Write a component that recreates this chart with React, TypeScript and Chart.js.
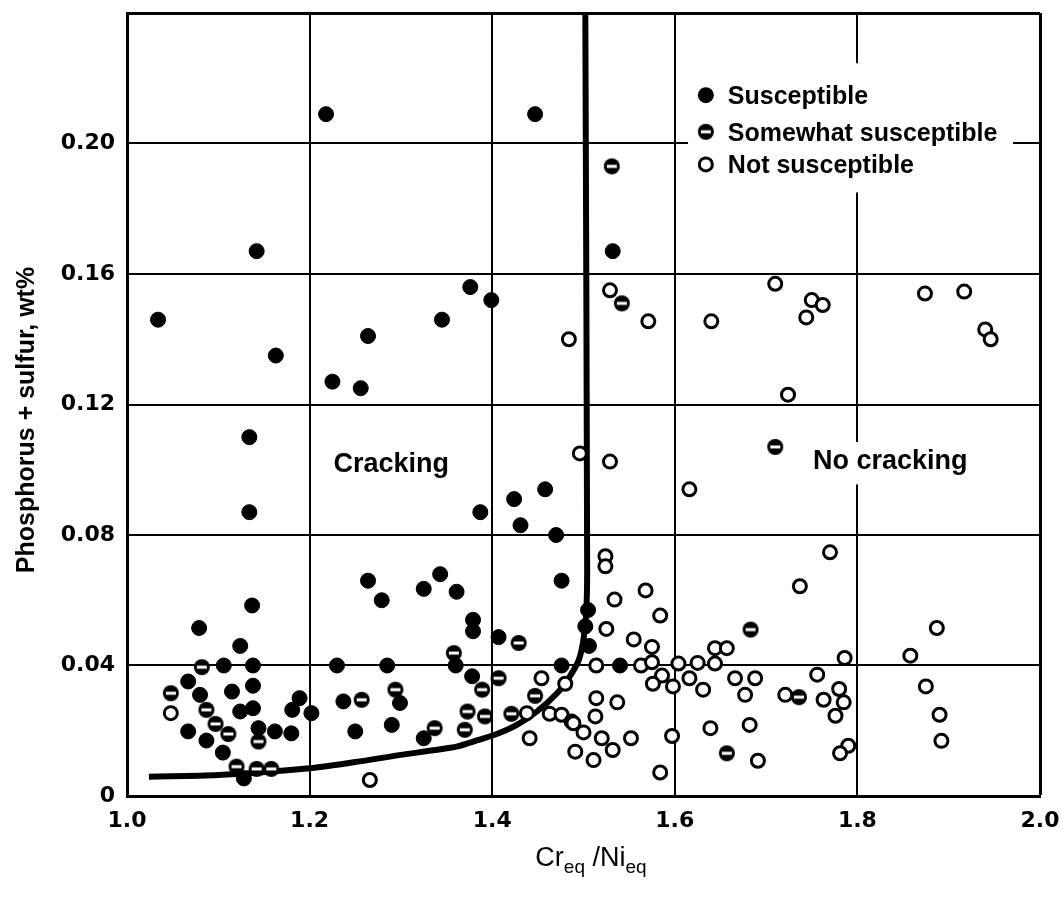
import React, { useEffect, useRef } from 'react';
import { Chart, registerables } from 'chart.js';

Chart.register(...registerables);

// ---------- data ----------
const xTickValues = [1.0, 1.2, 1.4, 1.6, 1.8, 2.0];
const yTickValues = [0, 0.04, 0.08, 0.12, 0.16, 0.2];
const legendLabels = ['Susceptible', 'Somewhat susceptible', 'Not susceptible'];
const regionLabels = ['Cracking', 'No cracking'];
const xTitleParts = ['Cr', 'eq', ' /Ni', 'eq'];
const yTitle = 'Phosphorus + sulfur, wt%';

const susceptible: [number, number][] = [
  [1.218, 0.209], [1.447, 0.209], [1.142, 0.167], [1.532, 0.167], [1.034, 0.146],
  [1.163, 0.135], [1.264, 0.141], [1.225, 0.127], [1.256, 0.125], [1.345, 0.146],
  [1.376, 0.156], [1.399, 0.152], [1.134, 0.11], [1.134, 0.087], [1.458, 0.094],
  [1.424, 0.091], [1.387, 0.087], [1.431, 0.083], [1.47, 0.08], [1.343, 0.068],
  [1.476, 0.066], [1.264, 0.066], [1.279, 0.06], [1.325, 0.0635], [1.361, 0.0626],
  [1.379, 0.054], [1.379, 0.0505], [1.407, 0.0487], [1.137, 0.0584], [1.079, 0.0515],
  [1.124, 0.046], [1.106, 0.04], [1.138, 0.04], [1.23, 0.04], [1.285, 0.04],
  [1.36, 0.04], [1.476, 0.04], [1.54, 0.04], [1.067, 0.0351], [1.138, 0.0338],
  [1.08, 0.031], [1.115, 0.032], [1.124, 0.0259], [1.138, 0.0269], [1.189, 0.03],
  [1.181, 0.0264], [1.202, 0.0254], [1.237, 0.029], [1.067, 0.0198], [1.087, 0.017],
  [1.144, 0.0208], [1.162, 0.0198], [1.18, 0.0192], [1.105, 0.0133], [1.128, 0.0054],
  [1.378, 0.0367], [1.299, 0.0285], [1.25, 0.0198], [1.29, 0.0218], [1.325, 0.0177],
  [1.505, 0.057], [1.502, 0.052], [1.506, 0.046],
];

const somewhat: [number, number][] = [
  [1.531, 0.193], [1.542, 0.151], [1.71, 0.107], [1.082, 0.0395], [1.087, 0.0264],
  [1.097, 0.0221], [1.111, 0.019], [1.144, 0.0167], [1.12, 0.009], [1.142, 0.0083],
  [1.158, 0.0083], [1.048, 0.0315], [1.429, 0.0469], [1.358, 0.0438], [1.407, 0.0361],
  [1.389, 0.0326], [1.257, 0.0295], [1.294, 0.0326], [1.373, 0.0259], [1.392, 0.0244],
  [1.421, 0.0252], [1.447, 0.0307], [1.337, 0.0208], [1.37, 0.0203], [1.683, 0.051],
  [1.736, 0.0303], [1.657, 0.0131],
];

const notSusceptible: [number, number][] = [
  [1.484, 0.14], [1.529, 0.155], [1.571, 0.1455], [1.64, 0.1455], [1.496, 0.105],
  [1.529, 0.1025], [1.616, 0.094], [1.524, 0.0735], [1.524, 0.0704], [1.71, 0.157],
  [1.75, 0.152], [1.762, 0.1505], [1.744, 0.1467], [1.874, 0.154], [1.917, 0.1546],
  [1.94, 0.143], [1.946, 0.14], [1.724, 0.123], [1.77, 0.0747], [1.048, 0.0254],
  [1.454, 0.0361], [1.48, 0.0344], [1.438, 0.0254], [1.441, 0.0177], [1.266, 0.0049],
  [1.463, 0.0252], [1.476, 0.0249], [1.487, 0.0228], [1.491, 0.0136], [1.568, 0.063],
  [1.534, 0.0602], [1.584, 0.0553], [1.525, 0.0512], [1.555, 0.048], [1.575, 0.0457],
  [1.514, 0.04], [1.563, 0.04], [1.575, 0.041], [1.586, 0.0369], [1.576, 0.0344],
  [1.604, 0.0406], [1.598, 0.0336], [1.616, 0.0361], [1.625, 0.0408], [1.631, 0.0326],
  [1.644, 0.0453], [1.657, 0.0453], [1.644, 0.0406], [1.666, 0.0361], [1.688, 0.0361],
  [1.677, 0.031], [1.737, 0.0643], [1.721, 0.031], [1.514, 0.03], [1.537, 0.0287],
  [1.489, 0.0223], [1.513, 0.0244], [1.5, 0.0195], [1.52, 0.0177], [1.511, 0.011],
  [1.532, 0.0141], [1.552, 0.0177], [1.597, 0.0184], [1.584, 0.0072], [1.639, 0.0208],
  [1.682, 0.0218], [1.691, 0.0108], [1.887, 0.0515], [1.786, 0.0423], [1.858, 0.043],
  [1.756, 0.0372], [1.763, 0.0295], [1.78, 0.0328], [1.785, 0.0287], [1.776, 0.0246],
  [1.875, 0.0336], [1.89, 0.0249], [1.892, 0.0169], [1.79, 0.0154], [1.781, 0.0131],
];

const boundaryCurve: [number, number][] = [
  [1.024, 0.0059], [1.1, 0.0064], [1.2, 0.0085], [1.25, 0.0104], [1.3, 0.0126],
  [1.335, 0.014], [1.362, 0.0152], [1.385, 0.0172], [1.405, 0.019], [1.427, 0.0218],
  [1.449, 0.0259], [1.471, 0.0315], [1.485, 0.0367], [1.495, 0.0418], [1.5, 0.048],
  [1.503, 0.056], [1.504, 0.07], [1.502, 0.24],
];

// ---------- helpers ----------
const FONT_SANS = '"Liberation Sans", Arial, Helvetica, sans-serif';

function makeSomewhatMarker(): HTMLCanvasElement {
  const c = document.createElement('canvas');
  c.width = 18;
  c.height = 18;
  const g = c.getContext('2d')!;
  g.fillStyle = '#000';
  g.beginPath();
  g.arc(9, 9, 8, 0, Math.PI * 2);
  g.fill();
  g.fillStyle = '#fff';
  g.fillRect(4, 7.5, 10, 3);
  return c;
}

function toPts(arr: [number, number][]) {
  return arr.map(([x, y]) => ({ x, y }));
}

const near = (a: number, b: number) => Math.abs(a - b) < 1e-9;

export default function App() {
  const ref = useRef<HTMLCanvasElement | null>(null);

  useEffect(() => {
    if (!ref.current) return;
    const somewhatMarker = makeSomewhatMarker();

    const annotate = {
      id: 'annotate',
      beforeDatasetsDraw(chart: any) {
        const { ctx } = chart;
        const xs = chart.scales.x;
        const ys = chart.scales.y;
        ctx.save();
        // white boxes behind legend and "No cracking"
        ctx.fillStyle = '#fff';
        const lx0 = xs.getPixelForValue(1.6145);
        const lx1 = xs.getPixelForValue(1.9704);
        const ly0 = ys.getPixelForValue(0.2246);
        const ly1 = ys.getPixelForValue(0.185);
        ctx.fillRect(lx0, ly0, lx1 - lx0, ly1 - ly0);
        const nx0 = xs.getPixelForValue(1.743);
        const nx1 = xs.getPixelForValue(1.93);
        const ny0 = ys.getPixelForValue(0.1085);
        const ny1 = ys.getPixelForValue(0.0955);
        ctx.fillRect(nx0, ny0, nx1 - nx0, ny1 - ny0);

        // region labels
        ctx.fillStyle = '#000';
        ctx.font = 'bold 27px ' + FONT_SANS;
        ctx.textAlign = 'center';
        ctx.textBaseline = 'middle';
        ctx.fillText(regionLabels[0], xs.getPixelForValue(1.2895), ys.getPixelForValue(0.1015));
        ctx.fillText(regionLabels[1], xs.getPixelForValue(1.836), ys.getPixelForValue(0.1025));

        // legend
        const mx = xs.getPixelForValue(1.634);
        const rowsY = [0.2148, 0.2036, 0.1936];
        ctx.font = 'bold 25px ' + FONT_SANS;
        ctx.textAlign = 'left';
        rowsY.forEach((v, i) => {
          const py = ys.getPixelForValue(v);
          if (i === 0) {
            ctx.fillStyle = '#000';
            ctx.beginPath();
            ctx.arc(mx, py, 8, 0, Math.PI * 2);
            ctx.fill();
          } else if (i === 1) {
            ctx.drawImage(somewhatMarker, mx - 9, py - 9);
          } else {
            ctx.fillStyle = '#fff';
            ctx.strokeStyle = '#000';
            ctx.lineWidth = 3;
            ctx.beginPath();
            ctx.arc(mx, py, 6.5, 0, Math.PI * 2);
            ctx.fill();
            ctx.stroke();
          }
          ctx.fillStyle = '#000';
          ctx.fillText(legendLabels[i], mx + 22, py + 2);
        });
        ctx.restore();
      },
      afterDraw(chart: any) {
        const { ctx, chartArea } = chart;
        ctx.save();
        ctx.fillStyle = '#000';
        // y title
        ctx.font = 'bold 25px ' + FONT_SANS;
        ctx.textAlign = 'center';
        ctx.textBaseline = 'alphabetic';
        ctx.translate(34, 420);
        ctx.rotate(-Math.PI / 2);
        ctx.fillText(yTitle, 0, 0);
        ctx.restore();

        // x title with subscripts
        ctx.save();
        ctx.fillStyle = '#000';
        ctx.textBaseline = 'alphabetic';
        ctx.textAlign = 'left';
        const bigFont = '27px ' + FONT_SANS;
        const smallFont = '19px ' + FONT_SANS;
        const widths = xTitleParts.map((t, i) => {
          ctx.font = i % 2 === 0 ? bigFont : smallFont;
          return ctx.measureText(t).width;
        });
        const total = widths.reduce((a, b) => a + b, 0);
        let cx = 591 - total / 2;
        const base = 866;
        xTitleParts.forEach((t, i) => {
          ctx.font = i % 2 === 0 ? bigFont : smallFont;
          ctx.fillText(t, cx, i % 2 === 0 ? base : base + 7);
          cx += widths[i];
        });
        ctx.restore();
      },
    };

    const tickFont = { family: '"DejaVu Sans", Verdana, sans-serif', weight: 'bold' as const, size: 22 };

    const chart = new Chart(ref.current, {
      type: 'scatter',
      data: {
        datasets: [
          {
            label: 'boundary',
            data: toPts(boundaryCurve),
            showLine: true,
            borderColor: '#000',
            borderWidth: 6,
            pointRadius: 0,
            tension: 0.3,
            fill: false,
            order: 10,
          } as any,
          {
            label: legendLabels[2],
            data: toPts(notSusceptible),
            pointStyle: 'circle',
            pointRadius: 6.5,
            pointBackgroundColor: '#fff',
            pointBorderColor: '#000',
            pointBorderWidth: 3,
            order: 3,
          },
          {
            label: legendLabels[1],
            data: toPts(somewhat),
            pointStyle: somewhatMarker,
            order: 2,
          },
          {
            label: legendLabels[0],
            data: toPts(susceptible),
            pointStyle: 'circle',
            pointRadius: 7.5,
            pointBackgroundColor: '#000',
            pointBorderColor: '#000',
            pointBorderWidth: 1,
            order: 1,
          },
        ],
      },
      options: {
        animation: false,
        responsive: true,
        maintainAspectRatio: false,
        events: [],
        layout: { padding: { left: 0, right: 21, top: 13, bottom: 0 } },
        plugins: {
          legend: { display: false },
          tooltip: { enabled: false },
          title: { display: false },
        },
        scales: {
          x: {
            type: 'linear',
            min: xTickValues[0],
            max: xTickValues[xTickValues.length - 1],
            afterBuildTicks: (scale: any) => {
              scale.ticks = xTickValues.map((v) => ({ value: v }));
            },
            afterFit: (scale: any) => {
              scale.height = 102;
              scale.paddingLeft = 0;
              scale.paddingRight = 0;
            },
            ticks: {
              font: tickFont,
              color: '#000',
              padding: 12,
              maxRotation: 0,
              callback: (v: any) => Number(v).toFixed(1),
            },
            grid: {
              color: '#000',
              lineWidth: (c: any) => (c.tick && near(c.tick.value, 2) ? 3 : 2),
              drawTicks: false,
            },
            border: { display: true, color: '#000', width: 3 },
          },
          y: {
            type: 'linear',
            min: 0,
            max: 0.24,
            afterBuildTicks: (scale: any) => {
              scale.ticks = [...yTickValues, 0.24].map((v) => ({ value: v }));
            },
            afterFit: (scale: any) => {
              scale.width = 127;
              scale.paddingTop = 0;
              scale.paddingBottom = 0;
            },
            ticks: {
              font: tickFont,
              color: '#000',
              padding: 12,
              callback: (v: any) => {
                const n = Number(v);
                if (near(n, 0.24)) return '';
                if (near(n, 0)) return '0';
                return n.toFixed(2);
              },
            },
            grid: {
              color: '#000',
              lineWidth: (c: any) => (c.tick && near(c.tick.value, 0.24) ? 3 : 2),
              drawTicks: false,
            },
            border: { display: true, color: '#000', width: 3 },
          },
        },
      },
      plugins: [annotate],
    });

    return () => chart.destroy();
  }, []);

  return (
    <div style={{ position: 'absolute', left: 0, top: 0, width: 1061, height: 898, background: '#fff' }}>
      <canvas ref={ref} />
    </div>
  );
}
